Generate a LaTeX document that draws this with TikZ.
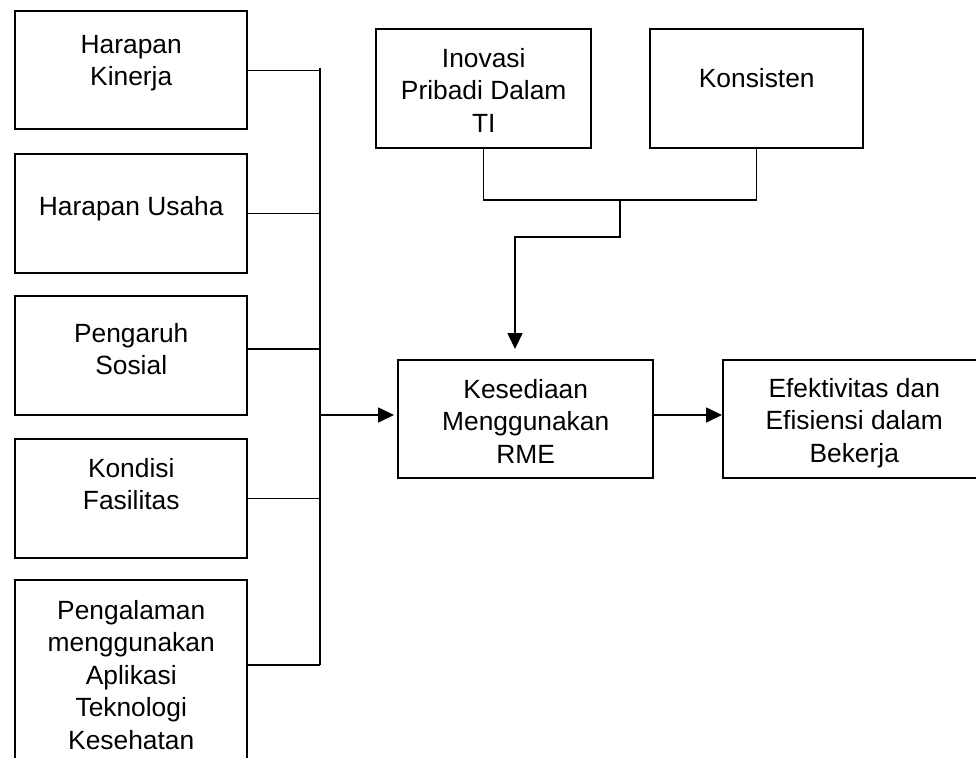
\documentclass[tikz,border=0pt]{standalone}
\usepackage{fontspec}
\setmainfont{Liberation Sans}
\usetikzlibrary{arrows.meta}

\newdimen\unitpx \unitpx=0.02cm
% box text: width, height, space above first line, text
\newcommand{\isi}[4]{\parbox[c][#2\unitpx][t]{#1\unitpx}{\centering\vspace*{#3\unitpx}#4}}

\begin{document}
\begin{tikzpicture}[
            x = 0.02cm, y = -0.02cm, % one unit = one pixel of the sketch
            > = {Triangle[length=9pt,width=8.5pt]}, % arrow head style
            kotak/.style = {draw, line width=1.4pt, inner sep=0pt, anchor=north west,
                            font=\fontsize{15}{18.5}\selectfont},
            garis/.style = {line width=0.7pt}
        ]
\useasboundingbox (0,0) rectangle (976,757);

\node[kotak] (hk) at (14,10) {\isi{232}{118}{24}{Harapan\\Kinerja}};
\node[kotak] (hu) at (14,153) {\isi{232}{119}{42}{Harapan Usaha}};
\node[kotak] (ps) at (14,295) {\isi{232}{119}{27}{Pengaruh\\Sosial}};
\node[kotak] (kf) at (14,438) {\isi{232}{119}{19}{Kondisi\\Fasilitas}};
\node[kotak] (pa) at (14,579) {\isi{232}{200}{20}{Pengalaman\\menggunakan\\Aplikasi\\Teknologi\\Kesehatan}};
\node[kotak] (ip) at (375,28) {\isi{215}{119}{19}{Inovasi\\Pribadi Dalam\\TI}};
\node[kotak] (ko) at (649,28) {\isi{213}{119}{39}{Konsisten}};
\node[kotak] (rme) at (397,359) {\isi{255}{118}{19}{Kesediaan\\Menggunakan\\RME}};
\node[kotak] (ef) at (722,359) {\isi{262}{118}{18}{Efektivitas dan\\Efisiensi dalam\\Bekerja}};

\coordinate (atas) at (320,68);
\coordinate (bawah) at (320,665);
\coordinate (b3) at (320,349);
\coordinate (masuk) at (320,415);
\coordinate (gabung) at (620,200);
\coordinate (belok) at (515,237);

 \draw[garis] (atas) -- (bawah);
 \draw[garis] (hk.east) -- (hk.east -| atas);
 \draw[garis] (hu.east) -- (hu.east -| atas);
 \draw[garis] (b3 -| ps.east) -- (b3);
 \draw[garis] (kf.east) -- (kf.east -| atas);
 \draw[garis] (bawah -| pa.east) -- (bawah);
 \draw[garis,->,shorten >=3\unitpx] (masuk) -- (masuk -| rme.west);
 \draw[garis,->] (masuk -| rme.east) -- (masuk -| ef.west);
 \draw[garis] (ip.south) |- (gabung) -| (ko.south);
 \draw[garis,->,shorten >=10\unitpx] (gabung) |- (belok) -- (belok |- rme.north);
\end{tikzpicture}
\end{document}
